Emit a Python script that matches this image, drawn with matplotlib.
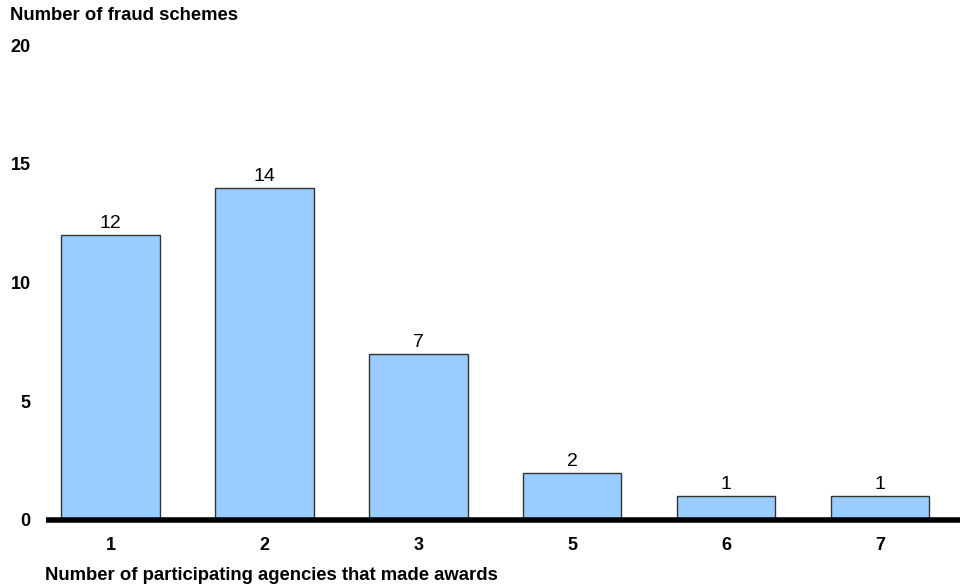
import numpy as np
import matplotlib.pyplot as plt

agencies = ["1", "2", "3", "5", "6", "7"]
schemes = [12, 14, 7, 2, 1, 1]
yticks = [0, 5, 10, 15, 20]

plt.rcParams['font.family'] = ['Liberation Sans', 'DejaVu Sans']

fig = plt.figure(figsize=(9.67, 5.86), dpi=100)
ax = fig.add_axes([46/967, 1 - 520/586, 914/967, 475/586])

x = np.arange(len(agencies))
bars = ax.bar(x, schemes, width=0.64, color="#99ccff", edgecolor="#333333", linewidth=1.0, zorder=2)

#value labels above bars
for b, v in zip(bars, schemes):
    ax.text(b.get_x() + b.get_width()/2, v + 0.12, str(v), ha="center", va="bottom", fontsize=14)

ax.set_xlim(-0.42, 5.52)
ax.set_ylim(0, 20)
ax.set_yticks(yticks)
ax.set_yticklabels([str(t) for t in yticks], fontsize=13, fontweight="bold")
ax.set_xticks(x)
ax.set_xticklabels(agencies, fontsize=13, fontweight="bold")
ax.tick_params(axis="both", length=0)
ax.tick_params(axis="x", pad=12)
ax.tick_params(axis="y", pad=11)

for s in ["top", "right", "left"]:
    ax.spines[s].set_visible(False)
ax.spines["bottom"].set_linewidth(4)
ax.spines["bottom"].set_capstyle("butt")
ax.spines["bottom"].set_zorder(3)

fig.text(10/967, 1 - 16/586, "Number of fraud schemes", fontsize=13.3, fontweight="bold", va="center")
fig.text(45/967, 1 - 576/586, "Number of participating agencies that made awards", fontsize=13.3, fontweight="bold", va="center")

fig.savefig("out.png", dpi=100)
